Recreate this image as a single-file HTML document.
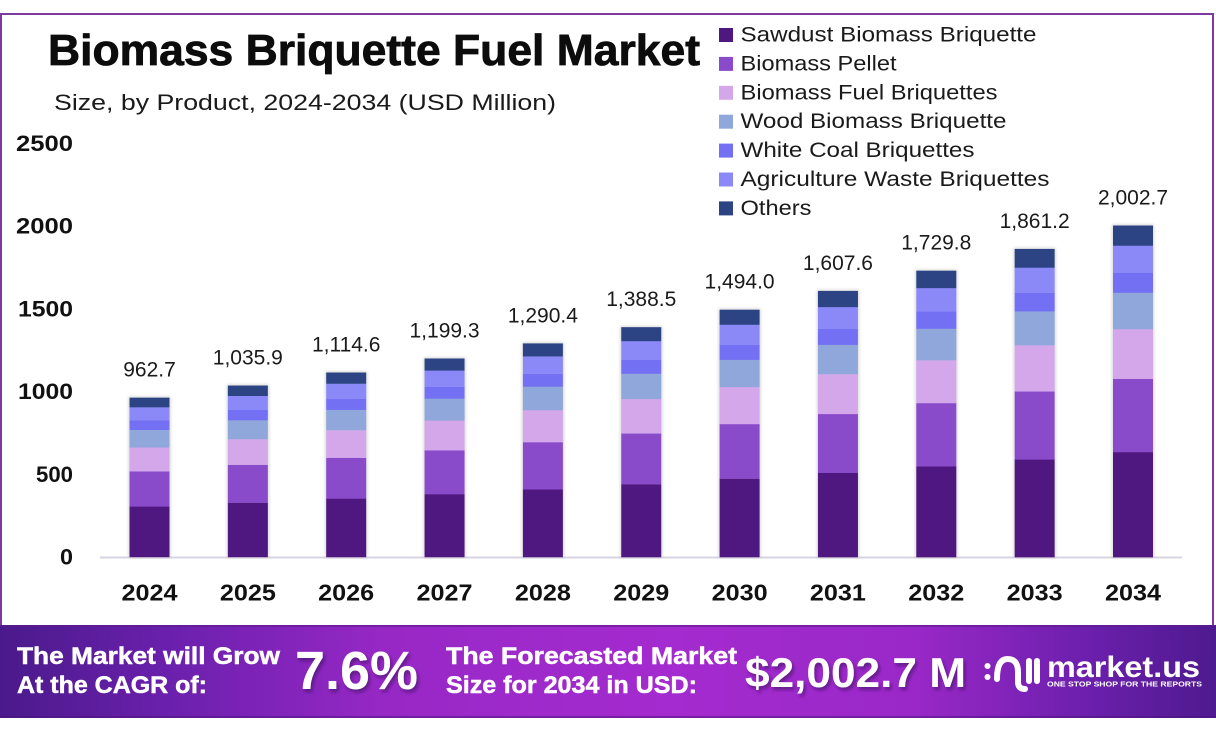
<!DOCTYPE html>
<html>
<head>
<meta charset="utf-8">
<style>
  html,body{margin:0;padding:0;background:#fff;}
  body{width:1216px;height:736px;overflow:hidden;}
  svg{display:block;}
  text{font-family:"Liberation Sans", sans-serif;}
</style>
</head>
<body>
<svg width="1216" height="736" viewBox="0 0 1216 736" xmlns="http://www.w3.org/2000/svg">
  <defs>
    <linearGradient id="foot" x1="0" y1="0" x2="1" y2="0">
      <stop offset="0" stop-color="#4a1a8b"/>
      <stop offset="0.14" stop-color="#6b20ad"/>
      <stop offset="0.32" stop-color="#9828c6"/>
      <stop offset="0.55" stop-color="#a42bcf"/>
      <stop offset="0.75" stop-color="#9a28c8"/>
      <stop offset="0.9" stop-color="#6a1fab"/>
      <stop offset="1" stop-color="#4e1a8f"/>
    </linearGradient>
    <filter id="blur" x="-5%" y="-5%" width="110%" height="110%">
      <feGaussianBlur stdDeviation="1.6"/>
    </filter>
    <filter id="tsh" x="-10%" y="-10%" width="130%" height="140%">
      <feDropShadow dx="2" dy="3" stdDeviation="1.5" flood-color="#3a0a60" flood-opacity="0.6"/>
    </filter>
    <g id="stack">
      <rect x="0" y="-0.317" width="40" height="0.318" fill="#4f1780"/>
      <rect x="0" y="-0.538" width="40" height="0.222" fill="#8a4bcb"/>
      <rect x="0" y="-0.688" width="40" height="0.151" fill="#d3a7ea"/>
      <rect x="0" y="-0.798" width="40" height="0.111" fill="#90a7dc"/>
      <rect x="0" y="-0.858" width="40" height="0.061" fill="#7370f3"/>
      <rect x="0" y="-0.940" width="40" height="0.083" fill="#8b89f7"/>
      <rect x="0" y="-1.000" width="40" height="0.061" fill="#2c4483"/>
    </g>
  </defs>

  <!-- frame -->
  <rect x="1" y="14" width="1212" height="620" fill="#fff" stroke="#7a3a9f" stroke-width="2"/>

  <!-- title -->
  <text x="48" y="65" font-size="44" font-weight="bold" fill="#0c0c0c" stroke="#0c0c0c" stroke-width="0.8" textLength="652" lengthAdjust="spacingAndGlyphs">Biomass Briquette Fuel Market</text>
  <text x="54" y="110" font-size="22" fill="#1a1a1a" textLength="502" lengthAdjust="spacingAndGlyphs">Size, by Product, 2024-2034 (USD Million)</text>

  <!-- y axis labels -->
  <g font-size="22" font-weight="bold" fill="#111" text-anchor="end">
    <text x="73" y="151" textLength="57" lengthAdjust="spacingAndGlyphs">2500</text>
    <text x="73" y="233.5" textLength="57" lengthAdjust="spacingAndGlyphs">2000</text>
    <text x="73" y="316.5" textLength="55" lengthAdjust="spacingAndGlyphs">1500</text>
    <text x="73" y="399" textLength="55" lengthAdjust="spacingAndGlyphs">1000</text>
    <text x="73" y="482" textLength="37" lengthAdjust="spacingAndGlyphs">500</text>
    <text x="73" y="564.5" textLength="13" lengthAdjust="spacingAndGlyphs">0</text>
  </g>

  <!-- axis line -->
  <line x1="100" y1="557.5" x2="1182" y2="557.5" stroke="#d8d4e3" stroke-width="2"/>

  <!-- bar shadows -->
  <g filter="url(#blur)" fill="#000" opacity="0.16">
    <rect x="128.5" y="396.6" width="42" height="160.4"/>
    <rect x="226.85" y="384.5" width="42" height="172.5"/>
    <rect x="325.2" y="371.5" width="42" height="185.5"/>
    <rect x="423.55" y="357.5" width="42" height="199.5"/>
    <rect x="521.9" y="342.4" width="42" height="214.6"/>
    <rect x="620.25" y="326.2" width="42" height="230.8"/>
    <rect x="718.6" y="308.7" width="42" height="248.3"/>
    <rect x="816.95" y="289.9" width="42" height="267.1"/>
    <rect x="915.3" y="269.7" width="42" height="287.3"/>
    <rect x="1013.65" y="247.9" width="42" height="309.1"/>
    <rect x="1112" y="224.5" width="42" height="332.5"/>
  </g>

  <!-- bars -->
  <use href="#stack" transform="translate(129.5,557) scale(1,159.35)"/>
  <use href="#stack" transform="translate(227.85,557) scale(1,171.46)"/>
  <use href="#stack" transform="translate(326.2,557) scale(1,184.49)"/>
  <use href="#stack" transform="translate(424.55,557) scale(1,198.51)"/>
  <use href="#stack" transform="translate(522.9,557) scale(1,213.59)"/>
  <use href="#stack" transform="translate(621.25,557) scale(1,229.82)"/>
  <use href="#stack" transform="translate(719.6,557) scale(1,247.29)"/>
  <use href="#stack" transform="translate(817.95,557) scale(1,266.09)"/>
  <use href="#stack" transform="translate(916.3,557) scale(1,286.32)"/>
  <use href="#stack" transform="translate(1014.65,557) scale(1,308.07)"/>
  <use href="#stack" transform="translate(1113,557) scale(1,331.49)"/>

  <!-- value labels -->
  <g font-size="21" fill="#1a1a1a" text-anchor="middle">
    <text x="149.5" y="376.6">962.7</text>
    <text x="247.85" y="364.5">1,035.9</text>
    <text x="346.2" y="351.5">1,114.6</text>
    <text x="444.55" y="337.5">1,199.3</text>
    <text x="542.9" y="322.4">1,290.4</text>
    <text x="641.25" y="306.2">1,388.5</text>
    <text x="739.6" y="288.7">1,494.0</text>
    <text x="837.95" y="269.9">1,607.6</text>
    <text x="936.3" y="249.7">1,729.8</text>
    <text x="1034.65" y="227.9">1,861.2</text>
    <text x="1133" y="204.5">2,002.7</text>
  </g>

  <!-- x labels -->
  <g font-size="23" font-weight="bold" fill="#111" text-anchor="middle">
    <text x="149.5" y="600.5" textLength="56" lengthAdjust="spacingAndGlyphs">2024</text>
    <text x="247.85" y="600.5" textLength="56" lengthAdjust="spacingAndGlyphs">2025</text>
    <text x="346.2" y="600.5" textLength="56" lengthAdjust="spacingAndGlyphs">2026</text>
    <text x="444.55" y="600.5" textLength="56" lengthAdjust="spacingAndGlyphs">2027</text>
    <text x="542.9" y="600.5" textLength="56" lengthAdjust="spacingAndGlyphs">2028</text>
    <text x="641.25" y="600.5" textLength="56" lengthAdjust="spacingAndGlyphs">2029</text>
    <text x="739.6" y="600.5" textLength="56" lengthAdjust="spacingAndGlyphs">2030</text>
    <text x="837.95" y="600.5" textLength="56" lengthAdjust="spacingAndGlyphs">2031</text>
    <text x="936.3" y="600.5" textLength="56" lengthAdjust="spacingAndGlyphs">2032</text>
    <text x="1034.65" y="600.5" textLength="56" lengthAdjust="spacingAndGlyphs">2033</text>
    <text x="1133" y="600.5" textLength="56" lengthAdjust="spacingAndGlyphs">2034</text>
  </g>

  <!-- legend -->
  <g>
    <rect x="719" y="28" width="14" height="14" fill="#4f1780"/>
    <rect x="719" y="56.9" width="14" height="14" fill="#8a4bcb"/>
    <rect x="719" y="85.8" width="14" height="14" fill="#d3a7ea"/>
    <rect x="719" y="114.7" width="14" height="14" fill="#90a7dc"/>
    <rect x="719" y="143.6" width="14" height="14" fill="#7370f3"/>
    <rect x="719" y="172.5" width="14" height="14" fill="#8b89f7"/>
    <rect x="719" y="201.4" width="14" height="14" fill="#2c4483"/>
  </g>
  <g font-size="21.5" fill="#1a1a1a">
    <text x="740.5" y="41.5" textLength="296" lengthAdjust="spacingAndGlyphs">Sawdust Biomass Briquette</text>
    <text x="740.5" y="70.4" textLength="156" lengthAdjust="spacingAndGlyphs">Biomass Pellet</text>
    <text x="740.5" y="99.3" textLength="257" lengthAdjust="spacingAndGlyphs">Biomass Fuel Briquettes</text>
    <text x="740.5" y="128.2" textLength="266" lengthAdjust="spacingAndGlyphs">Wood Biomass Briquette</text>
    <text x="740.5" y="157.1" textLength="234" lengthAdjust="spacingAndGlyphs">White Coal Briquettes</text>
    <text x="740.5" y="186" textLength="309" lengthAdjust="spacingAndGlyphs">Agriculture Waste Briquettes</text>
    <text x="740.5" y="214.9" textLength="71" lengthAdjust="spacingAndGlyphs">Others</text>
  </g>

  <!-- footer -->
  <rect x="0" y="625" width="1216" height="93" fill="url(#foot)"/>
  <rect x="0" y="625" width="1216" height="2" fill="#5a1c8e" opacity="0.6"/>
  <rect x="0" y="716" width="1216" height="2" fill="#4a1478" opacity="0.5"/>

  <g fill="#fff" font-weight="bold">
    <text x="17" y="664" font-size="24" stroke="#fff" stroke-width="0.5" textLength="263" lengthAdjust="spacingAndGlyphs">The Market will Grow</text>
    <text x="17" y="693" font-size="24" stroke="#fff" stroke-width="0.5" textLength="190" lengthAdjust="spacingAndGlyphs">At the CAGR of:</text>
    <text x="295" y="689" font-size="54" textLength="123" lengthAdjust="spacingAndGlyphs" filter="url(#tsh)">7.6%</text>
    <text x="446" y="664" font-size="24" stroke="#fff" stroke-width="0.5" textLength="291" lengthAdjust="spacingAndGlyphs">The Forecasted Market</text>
    <text x="446" y="693" font-size="24" stroke="#fff" stroke-width="0.5" textLength="251" lengthAdjust="spacingAndGlyphs">Size for 2034 in USD:</text>
    <text x="745" y="687" font-size="42" textLength="221" lengthAdjust="spacingAndGlyphs" filter="url(#tsh)">$2,002.7 M</text>
    <text x="1047" y="677" font-size="30" textLength="153" lengthAdjust="spacingAndGlyphs">market.us</text>
    <text x="1047" y="686.5" font-size="7" textLength="155" lengthAdjust="spacingAndGlyphs">ONE STOP SHOP FOR THE REPORTS</text>
  </g>

  <!-- logo icon -->
  <g fill="none" stroke="#fff" stroke-width="6" stroke-linecap="round" stroke-linejoin="round">
    <path d="M997 679 Q997 659 1007.5 659 Q1018 659 1018 672 L1018 682 Q1018 689 1025 689"/>
    <line x1="1029" y1="661" x2="1029" y2="681"/>
    <line x1="1037" y1="661" x2="1037" y2="681"/>
  </g>
  <circle cx="987.5" cy="666" r="3" fill="#fff"/>
  <circle cx="987.5" cy="677" r="3" fill="#fff"/>
</svg>
</body>
</html>
